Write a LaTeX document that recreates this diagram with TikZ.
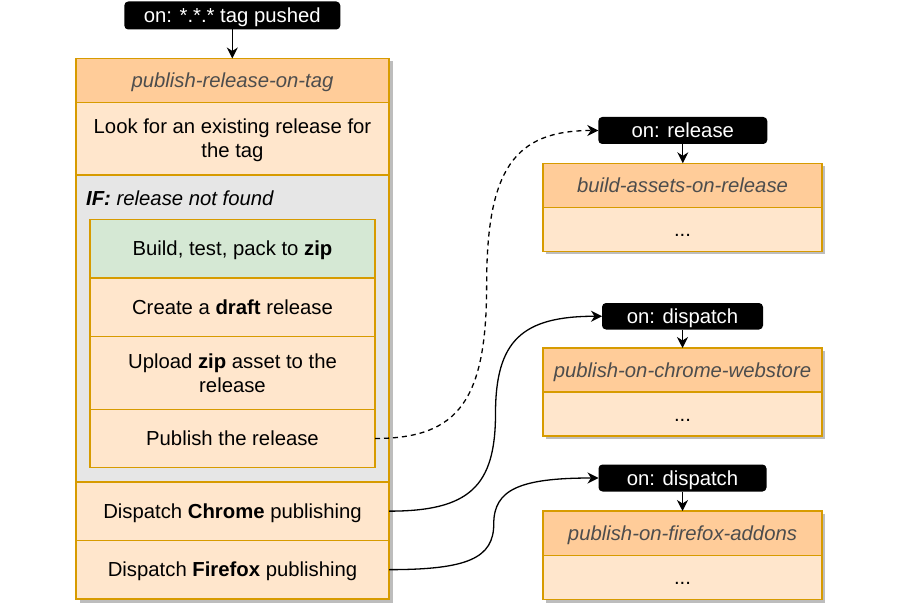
\documentclass[tikz,border=0pt]{standalone}
\usepackage{fontspec}
\setmainfont{Liberation Sans}
\usetikzlibrary{arrows.meta,calc}
\definecolor{hdr}{HTML}{FFCC99}
\definecolor{bdy}{HTML}{FFE6CC}
\definecolor{brd}{HTML}{D79B00}
\definecolor{grn}{HTML}{D5E8D4}
\definecolor{ifg}{HTML}{E6E6E6}
\definecolor{ttl}{HTML}{4D4D4D}
\definecolor{shd}{HTML}{BDBDBD}
\newcommand\lstrut{\rule[-5pt]{0pt}{24pt}}
\begin{document}
\begin{tikzpicture}[x=1pt,y=-1pt,
  font=\fontsize{20.3}{24}\selectfont,
  cell/.style={draw=brd,line width=1.3pt,fill=bdy,anchor=north west,inner sep=0pt,outer sep=0pt,align=center,text=black,
    execute at begin node=\lstrut},
  twoline/.style={execute at begin node={}},
  hdrcell/.style={cell,fill=hdr,text=ttl,font=\fontsize{20.3}{24}\selectfont\itshape},
  ifcell/.style={cell,fill=ifg},
  stepcell/.style={cell,fill=grn},
  tagbox/.style={fill=black,rounded corners=4pt,text=white,inner sep=0pt,outer sep=0pt,anchor=north west,
    execute at begin node=\lstrut},
  shadowbox/.style={fill=shd},
  conn/.style={line width=1.3pt,-{Stealth[length=11pt,width=11pt,inset=3.5pt]}},
  dashconn/.style={conn,dash pattern=on 5pt off 4pt}]
\useasboundingbox (0,0) rectangle (900,604);

% shadows
\fill[shadowbox] (79.5,61.5) rectangle (392.5,602.5);
\fill[shadowbox] (546,166.5) rectangle (825,254.5);
\fill[shadowbox] (546,351) rectangle (825,439);
\fill[shadowbox] (546,514) rectangle (825,602.5);

% main column
\node[hdrcell,minimum width=313pt,minimum height=44pt] (t1) at (76,58.5) {publish-release-on-tag};
\node[cell,twoline,minimum width=313pt,minimum height=72.5pt] (look) at (76,102.5) {\lstrut Look for an existing release for\\\lstrut the tag};
\node[ifcell,minimum width=313pt,minimum height=307pt] (ifc) at (76,175) {};
\node[anchor=west,inner sep=0pt,text=black] (iftxt) at (86,198) {\textbf{\itshape IF:} \itshape release not found};
\node[stepcell,minimum width=285pt,minimum height=58.5pt] (build) at (90,219.5) {Build, test, pack to \textbf{zip}};
\node[cell,minimum width=285pt,minimum height=58.5pt] (draft) at (90,278) {Create a \textbf{draft} release};
\node[cell,twoline,minimum width=285pt,minimum height=73pt] (upl) at (90,336.5) {\lstrut Upload \textbf{zip} asset to the\\\lstrut release};
\node[cell,minimum width=285pt,minimum height=58pt] (pub) at (90,409.5) {Publish the release};
\node[cell,minimum width=313pt,minimum height=58.3pt] (chr) at (76,482) {Dispatch \textbf{Chrome} publishing};
\node[cell,minimum width=313pt,minimum height=58.7pt] (ffx) at (76,540.3) {Dispatch \textbf{Firefox} publishing};

\node[tagbox,minimum width=216pt,minimum height=28pt] (tag0) at (124.3,1.5) {on: *.*.* tag pushed};

% right side
\node[tagbox,minimum width=169pt,minimum height=27pt] (rel) at (598.3,117) {on: release};
\node[hdrcell,minimum width=279pt,minimum height=44.5pt] (bt) at (543,163.3) {build-assets-on-release};
\node[cell,minimum width=279pt,minimum height=43.5pt] (bb) at (543,207.8) {...};

\node[tagbox,minimum width=161pt,minimum height=26.5pt] (dis1) at (602,303) {on: dispatch};
\node[hdrcell,minimum width=279pt,minimum height=44pt] (ct) at (543,348) {publish-on-chrome-webstore};
\node[cell,minimum width=279pt,minimum height=44pt] (cb) at (543,392) {...};

\node[tagbox,minimum width=168pt,minimum height=27pt] (dis2) at (598.5,464.5) {on: dispatch};
\node[hdrcell,minimum width=279pt,minimum height=44.3pt] (ft) at (543,511) {publish-on-firefox-addons};
\node[cell,minimum width=279pt,minimum height=44pt] (fb) at (543,555.3) {...};

% straight arrows
\draw[conn] (tag0.south) -- (tag0.south |- t1.north);
\draw[conn] (rel.south) -- (rel.south |- bt.north);
\draw[conn] (dis1.south) -- (dis1.south |- ct.north);
\draw[conn] (dis2.south) -- (dis2.south |- ft.north);

% curved connectors
\coordinate (m1) at ($(pub.east)!0.5!(rel.west)$);
\coordinate (m2) at ($(chr.east)!0.5!(dis1.west)$);
\coordinate (m3) at ($(ffx.east)!0.5!(dis2.west)$);
\draw[dashconn] (pub.east) .. controls ($(pub.east)!0.75!(pub.east -| m1)$) and ($(m1)!0.75!(pub.east -| m1)$) .. (m1)
  .. controls ($(m1)!0.75!(m1 |- rel.west)$) and ($(rel.west)!0.75!(m1 |- rel.west)$) .. (rel.west);
\draw[conn] (chr.east) .. controls ($(chr.east)!0.75!(chr.east -| m2)$) and ($(m2)!0.75!(chr.east -| m2)$) .. (m2)
  .. controls ($(m2)!0.75!(m2 |- dis1.west)$) and ($(dis1.west)!0.75!(m2 |- dis1.west)$) .. (dis1.west);
\draw[conn] (ffx.east) .. controls ($(ffx.east)!0.75!(ffx.east -| m3)$) and ($(m3)!0.75!(ffx.east -| m3)$) .. (m3)
  .. controls ($(m3)!0.75!(m3 |- dis2.west)$) and ($(dis2.west)!0.75!(m3 |- dis2.west)$) .. (dis2.west);
\end{tikzpicture}
\end{document}
